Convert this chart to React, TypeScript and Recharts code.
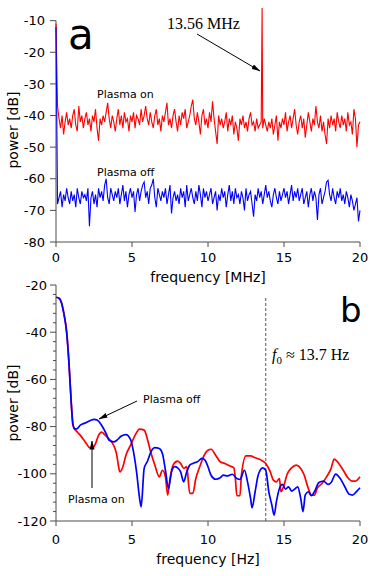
import React from "react";
import {
  LineChart,
  Line,
  XAxis,
  YAxis,
  ReferenceLine,
  Label,
} from "recharts";

// panel a: noise spectra sampled every 0.1 MHz from 0 to 20 MHz
const STEP_MHZ = 0.1;

const plasmaOnA = [
  -11, -37, -41, -44, -40, -46, -42, -39, -43, -41,
  -44, -40, -38, -43, -45, -37, -42, -40, -44, -41,
  -39, -43, -41, -45, -40, -42, -38, -44, -48, -41,
  -43, -40, -42, -39, -36, -41, -44, -40, -42, -45,
  -41, -38, -43, -40, -44, -39, -42, -41, -45, -40,
  -42, -39, -44, -40, -41, -43, -38, -42, -40, -37,
  -41, -43, -39, -42, -44, -40, -38, -43, -41, -45,
  -40, -42, -39, -36, -43, -41, -44, -40, -38, -42,
  -45, -40, -43, -39, -41, -38, -44, -42, -40, -37,
  -35, -41, -43, -39, -42, -46, -40, -38, -43, -41,
  -44, -39, -42, -35.5, -41, -45, -49, -40, -43, -41,
  -44, -42, -39, -45, -41, -43, -40, -46, -42, -44,
  -48, -41, -43, -40, -44, -42, -45, -41, -39, -43,
  -42, -45, -41, -44, -43, -42, -44, -41, -43, -45,
  -42, -44, -41, -46, -43, -40, -48, -42, -44, -41,
  -43, -39, -45, -42, -40, -44, -41, -38, -43, -46,
  -42, -40, -44, -41, -47, -43, -39, -42, -45, -41,
  -43, -37, -42, -44, -40, -45, -42, -46, -49, -41,
  -44, -40, -43, -41, -45, -39, -42, -44, -40, -43,
  -41, -45, -39, -43, -42, -46, -38, -41, -50, -43,
  -42,
];

const plasmaOffA = [
  -12, -68, -66, -64, -69, -65, -67, -63, -66, -68,
  -64, -67, -65, -69, -63, -66, -68, -64, -66, -65,
  -67, -63, -75, -66, -64, -68, -65, -69, -63, -66,
  -64, -67, -62, -60, -66, -68, -63, -65, -67, -64,
  -66, -63, -68, -65, -62, -67, -64, -69, -65, -63,
  -66, -64, -70.5, -65, -63, -67, -64, -62, -61, -66,
  -64, -68, -63, -62, -60, -66, -69, -63, -65, -67,
  -64, -66, -63, -68, -65, -62, -71, -66, -64, -67,
  -65, -68, -63, -66, -64, -69, -62, -67, -65, -63,
  -66, -68, -64, -67, -62, -65, -69, -63, -66, -64,
  -67, -65, -63, -68, -66, -64, -70, -65, -67, -63,
  -66, -64, -69, -65, -62, -67, -64, -68, -63, -66,
  -65, -68, -64, -66, -70, -63, -67, -65, -64, -68,
  -72, -65, -67, -63, -66, -64, -68, -65, -62, -66,
  -64, -67, -69, -65, -63, -66, -68, -64, -67, -65,
  -63, -66, -64, -68, -65, -62, -67, -64, -66, -63,
  -67, -65, -63, -68, -66, -64, -69, -65, -63, -67,
  -64, -66, -73, -65, -63, -68, -66, -64, -61, -60.5,
  -65, -67, -63, -66, -68, -64, -66, -63, -67, -65,
  -68, -64, -66, -69, -65, -67, -70, -68, -66, -73.5,
  -70,
];

// the 13.56 MHz RF line
const rfPeakFreq = 13.56;
const rfPeakPower = -6;

// panel b: smoothed spectra
const offFreqB = [
  0, 0.2, 0.35, 0.5, 0.7, 0.85, 1.0, 1.1, 1.2, 1.35, 1.6, 2.0, 2.3, 2.5, 2.7,
  3.0, 3.3, 3.5, 3.8, 4.0, 4.3, 4.6, 4.9, 5.1, 5.3, 5.5, 5.6, 5.8, 6.0, 6.3,
  6.5, 6.8, 7.0, 7.2, 7.4, 7.6, 7.8, 8.0, 8.2, 8.4, 8.6, 8.8, 9.0, 9.3, 9.6,
  9.8, 10.0, 10.2, 10.5, 10.8, 11.0, 11.3, 11.6, 11.9, 12.1, 12.4, 12.6, 12.8,
  12.9, 13.1, 13.3, 13.6, 13.8, 14.0, 14.2, 14.35, 14.5, 14.7, 14.9, 15.1,
  15.3, 15.5, 15.7, 15.9, 16.1, 16.25, 16.4, 16.6, 16.8, 17.0, 17.3, 17.6,
  17.9, 18.1, 18.4, 18.7, 19.0, 19.3, 19.5, 19.8, 20.0,
];
const offPowerB = [
  -25.2, -25.6, -27.3, -31.5, -40, -52.7, -69.6, -78, -81, -81, -79.4, -78.3,
  -77.3, -76.9, -77.2, -79.4, -83, -85.8, -86.5, -85.8, -84, -83.4, -85.4,
  -90.7, -99.2, -110.4, -114, -97.7, -94.9, -90, -88.9, -89.3, -91.4, -98.5,
  -106.2, -99.2, -97, -97.5, -99.2, -103.4, -99.2, -96.3, -95.6, -94.9, -93.5,
  -94.2, -97, -100.6, -102.3, -101.7, -100.6, -100.9, -100.2, -102, -102.4,
  -98.5, -103.4, -110.4, -114.4, -107.6, -100.6, -97.5, -98.5, -107.6, -113.2,
  -117.5, -111.8, -106.2, -104.5, -106.5, -105.5, -107.3, -106.5, -105.5,
  -110.4, -116, -108.9, -107.6, -109.3, -107.6, -103.7, -103.1, -104.5,
  -103.7, -100.1, -102, -105.5, -108.7, -109, -107.3, -105.9,
];

const onFreqB = [
  0, 0.2, 0.35, 0.5, 0.7, 0.85, 1.0, 1.1, 1.2, 1.4, 1.6, 1.8, 2.0, 2.2, 2.4,
  2.6, 2.8, 3.0, 3.2, 3.5, 3.8, 4.0, 4.1, 4.2, 4.4, 4.6, 4.9, 5.2, 5.5, 5.8,
  6.0, 6.2, 6.5, 6.8, 7.0, 7.2, 7.35, 7.5, 7.7, 8.0, 8.2, 8.4, 8.6, 8.8, 9.0,
  9.2, 9.5, 9.7, 10.0, 10.2, 10.5, 10.8, 11.1, 11.4, 11.7, 11.8, 11.9, 12.1,
  12.2, 12.5, 12.8, 13.1, 13.5, 13.8, 14.1, 14.3, 14.5, 14.7, 14.8, 15.0, 15.2,
  15.5, 15.8, 16.0, 16.3, 16.6, 16.8, 17.0, 17.2, 17.5, 17.8, 18.1, 18.3, 18.6,
  18.9, 19.2, 19.5, 19.7, 20.0,
];
const onPowerB = [
  -25.2, -25.6, -27.3, -31.5, -40, -52.7, -69.6, -79, -80.6, -82.3, -83.7,
  -85.4, -87.2, -88.9, -89, -87.2, -83.7, -82.3, -83.4, -85.4, -88, -92.1,
  -96.3, -99.2, -97, -92.1, -88, -83.7, -81.1, -81.5, -85, -90, -96.3, -101.3,
  -98.5, -101.3, -109, -102, -96.3, -94.6, -95.6, -97.7, -97, -108.3, -108.3,
  -102, -96.3, -92.8, -90, -89.6, -92.1, -94.9, -95.6, -96.6, -97.5, -102,
  -109.3, -109.3, -100.6, -92.4, -92.4, -93.2, -94.2, -95.6, -99.2, -102.7,
  -103.4, -102, -107.6, -104.8, -100.3, -97.5, -96.3, -97, -100.1, -106.2,
  -109, -109, -106, -104.1, -101.3, -97.7, -93.8, -95.6, -98.5, -101.7,
  -103.1, -103.1, -101.3,
];

const f0Hz = 13.8;

const ticksA = [-80, -70, -60, -50, -40, -30, -20, -10];
const ticksFreq = [0, 5, 10, 15, 20];
const ticksB: number[] = [];
for (let v = -120; v <= -20; v += 4) ticksB.push(v);

const onA = plasmaOnA.map((p, i) => ({ f: +(i * STEP_MHZ).toFixed(2), p }));
const peakAt = onA.findIndex((d) => d.f > rfPeakFreq);
onA.splice(peakAt, 0, { f: rfPeakFreq, p: rfPeakPower });
const offA = plasmaOffA.map((p, i) => ({ f: +(i * STEP_MHZ).toFixed(2), p }));
const offB = offFreqB.map((f, i) => ({ f, p: offPowerB[i] }));
const onB = onFreqB.map((f, i) => ({ f, p: onPowerB[i] }));

const SANS = "'DejaVu Sans', sans-serif";
const SERIF = "'Liberation Serif', 'DejaVu Serif', serif";
const AXIS = "#4d4d4d";
const tickStyle = { fill: "#000", fontSize: 13, fontFamily: SANS };

const yTitle = (text: string, cy: number) => (props: any) => {
  const { x, y } = props.viewBox;
  const px = x + 17.5;
  const py = y + cy;
  return (
    <text
      x={px}
      y={py}
      transform={`rotate(-90 ${px} ${py})`}
      textAnchor="middle"
      fontSize={14}
      fontFamily={SANS}
      fill="#000"
    >
      {text}
    </text>
  );
};

const BTick = (props: any) => {
  const { x, y, payload } = props;
  const v = payload.value;
  if (v % 20 !== 0) return <g />;
  return (
    <g>
      <line x1={x + 3} x2={x + 6} y1={y} y2={y} stroke={AXIS} />
      <text x={x} y={y} dy="0.355em" textAnchor="end" {...tickStyle}>
        {v}
      </text>
    </g>
  );
};

const Arrow = ({ x1, y1, x2, y2 }: { x1: number; y1: number; x2: number; y2: number }) => (
  <line x1={x1} y1={y1} x2={x2} y2={y2} stroke="#000" strokeWidth={1} markerEnd="url(#head)" />
);

export default function App() {
  return (
    <div style={{ position: "absolute", left: 0, top: 0, width: 374, height: 576, background: "#fff" }}>
      <div style={{ position: "absolute", left: 0, top: 0 }}>
        <LineChart width={374} height={290} margin={{ top: 8, right: 14, bottom: 0, left: 0 }}>
          <XAxis
            dataKey="f"
            type="number"
            domain={[0, 20]}
            ticks={ticksFreq}
            tick={tickStyle}
            tickSize={5}
            tickMargin={6}
            height={48}
            stroke={AXIS}
            label={{ value: "frequency [MHz]", position: "insideBottom", offset: 8, fontSize: 14, fontFamily: SANS, fill: "#000" }}
          />
          <YAxis
            type="number"
            domain={[-80, -6]}
            ticks={ticksA}
            tick={tickStyle}
            tickSize={6}
            tickMargin={5}
            width={56}
            axisLine={false}
            stroke={AXIS}
          >
            <Label content={yTitle("power [dB]", 122)} />
          </YAxis>
          <ReferenceLine segment={[{ x: 0, y: -80 }, { x: 0, y: -10 }]} stroke={AXIS} />
          <Line data={onA} dataKey="p" type="linear" stroke="#ff0000" strokeWidth={1.1} dot={false} isAnimationActive={false} />
          <Line data={offA} dataKey="p" type="linear" stroke="#0000ff" strokeWidth={1.1} dot={false} isAnimationActive={false} />
        </LineChart>
      </div>
      <div style={{ position: "absolute", left: 0, top: 268 }}>
        <LineChart width={374} height={308} margin={{ top: 17, right: 14, bottom: 0, left: 0 }}>
          <XAxis
            dataKey="f"
            type="number"
            domain={[0, 20]}
            ticks={ticksFreq}
            tick={tickStyle}
            tickSize={5}
            tickMargin={9}
            height={55}
            stroke={AXIS}
            label={{ value: "frequency [Hz]", position: "insideBottom", offset: 12, fontSize: 14, fontFamily: SANS, fill: "#000" }}
          />
          <YAxis
            type="number"
            domain={[-120, -20]}
            ticks={ticksB}
            interval={0}
            tick={<BTick />}
            tickSize={3}
            tickMargin={6}
            width={56}
            stroke={AXIS}
          >
            <Label content={yTitle("power [dB]", 118)} />
          </YAxis>
          <ReferenceLine
            segment={[{ x: f0Hz, y: -120 }, { x: f0Hz, y: -25 }]}
            stroke="#555"
            strokeDasharray="3 2"
          />
          <Line data={onB} dataKey="p" type="monotone" stroke="#ff0000" strokeWidth={1.7} dot={false} isAnimationActive={false} />
          <Line data={offB} dataKey="p" type="monotone" stroke="#0000ff" strokeWidth={1.7} dot={false} isAnimationActive={false} />
        </LineChart>
      </div>
      <svg width={374} height={576} style={{ position: "absolute", left: 0, top: 0, pointerEvents: "none" }}>
        <defs>
          <marker id="head" markerWidth="9" markerHeight="6" refX="8.5" refY="3" orient="auto" markerUnits="userSpaceOnUse">
            <path d="M0,0.5 L9,3 L0,5.5 Z" fill="#000" />
          </marker>
        </defs>
        <text x={68} y={49} fontSize={42} fontFamily={SANS} fill="#000">a</text>
        <text x={340} y={322} fontSize={34} fontFamily={SANS} fill="#000">b</text>
        <text x={167} y={29} fontSize={16} fontFamily={SERIF} fill="#000">13.56 MHz</text>
        <Arrow x1={197} y1={34} x2={260} y2={71} />
        <text x={97} y={98} fontSize={11} fontFamily={SANS} fill="#000">Plasma on</text>
        <text x={97} y={176} fontSize={11} fontFamily={SANS} fill="#000">Plasma off</text>
        <text x={143} y={403} fontSize={11} fontFamily={SANS} fill="#000">Plasma off</text>
        <Arrow x1={137} y1={401} x2={99} y2={419} />
        <text x={68} y={503} fontSize={11} fontFamily={SANS} fill="#000">Plasma on</text>
        <Arrow x1={92} y1={488} x2={92} y2={441} />
        <text x={272} y={360} fontSize={16} fontFamily={SERIF} fill="#000">
          <tspan fontStyle="italic">f</tspan>
          <tspan dy={4} fontSize={11}>0</tspan>
          <tspan dy={-4}> ≈ 13.7 Hz</tspan>
        </text>
      </svg>
    </div>
  );
}
